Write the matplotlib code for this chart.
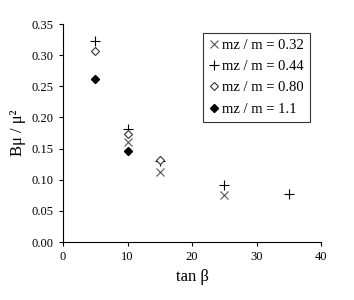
import matplotlib
matplotlib.use("Agg")
import matplotlib.pyplot as plt

plt.rcParams['font.family'] = ['Liberation Serif', 'DejaVu Serif']

# data
tb_032 = [10, 15, 25]
b_032 = [0.160, 0.112, 0.075]
tb_044 = [5, 10, 15, 25, 35]
b_044 = [0.323, 0.181, 0.130, 0.091, 0.077]
tb_080 = [5, 10, 15]
b_080 = [0.307, 0.174, 0.132]
tb_110 = [5, 10]
b_110 = [0.262, 0.146]

fig = plt.figure(figsize=(3.54, 3.0), dpi=100)
ax = fig.add_axes([0.178, 0.193, 0.729, 0.727])

ax.plot(tb_032, b_032, 'x', color='#555555', ms=6, mew=0.8, label='mz / m = 0.32')
ax.plot(tb_044, b_044, '+', color='black', ms=7, mew=0.8, label='mz / m = 0.44')
ax.plot(tb_080, b_080, 'D', mfc='white', mec='#333333', ms=4.5, mew=0.8, label='mz / m = 0.80')
ax.plot(tb_110, b_110, 'D', color='black', ms=4.5, label='mz / m = 1.1')

ax.set_xlim(0, 40)
ax.set_ylim(0, 0.35)
ax.set_xticks([0, 10, 20, 30, 40])
ax.set_yticks([0.0, 0.05, 0.10, 0.15, 0.20, 0.25, 0.30, 0.35])
ax.set_yticklabels(['%.2f' % v for v in ax.get_yticks()])
ax.tick_params(direction='out', length=3, labelsize=9)
ax.spines['top'].set_visible(False)
ax.spines['right'].set_visible(False)

ax.set_xlabel('tan β', fontsize=12)
ax.set_ylabel('Bμ / μ²', fontsize=12)

leg = ax.legend(loc='upper right', bbox_to_anchor=(0.957, 0.959), borderaxespad=0,
                fontsize=10.5, frameon=True, fancybox=False, edgecolor='black',
                handlelength=0.6, handletextpad=0.3, borderpad=0.4, labelspacing=0.55)
leg.get_frame().set_linewidth(0.8)

fig.savefig('out.png', dpi=100)
